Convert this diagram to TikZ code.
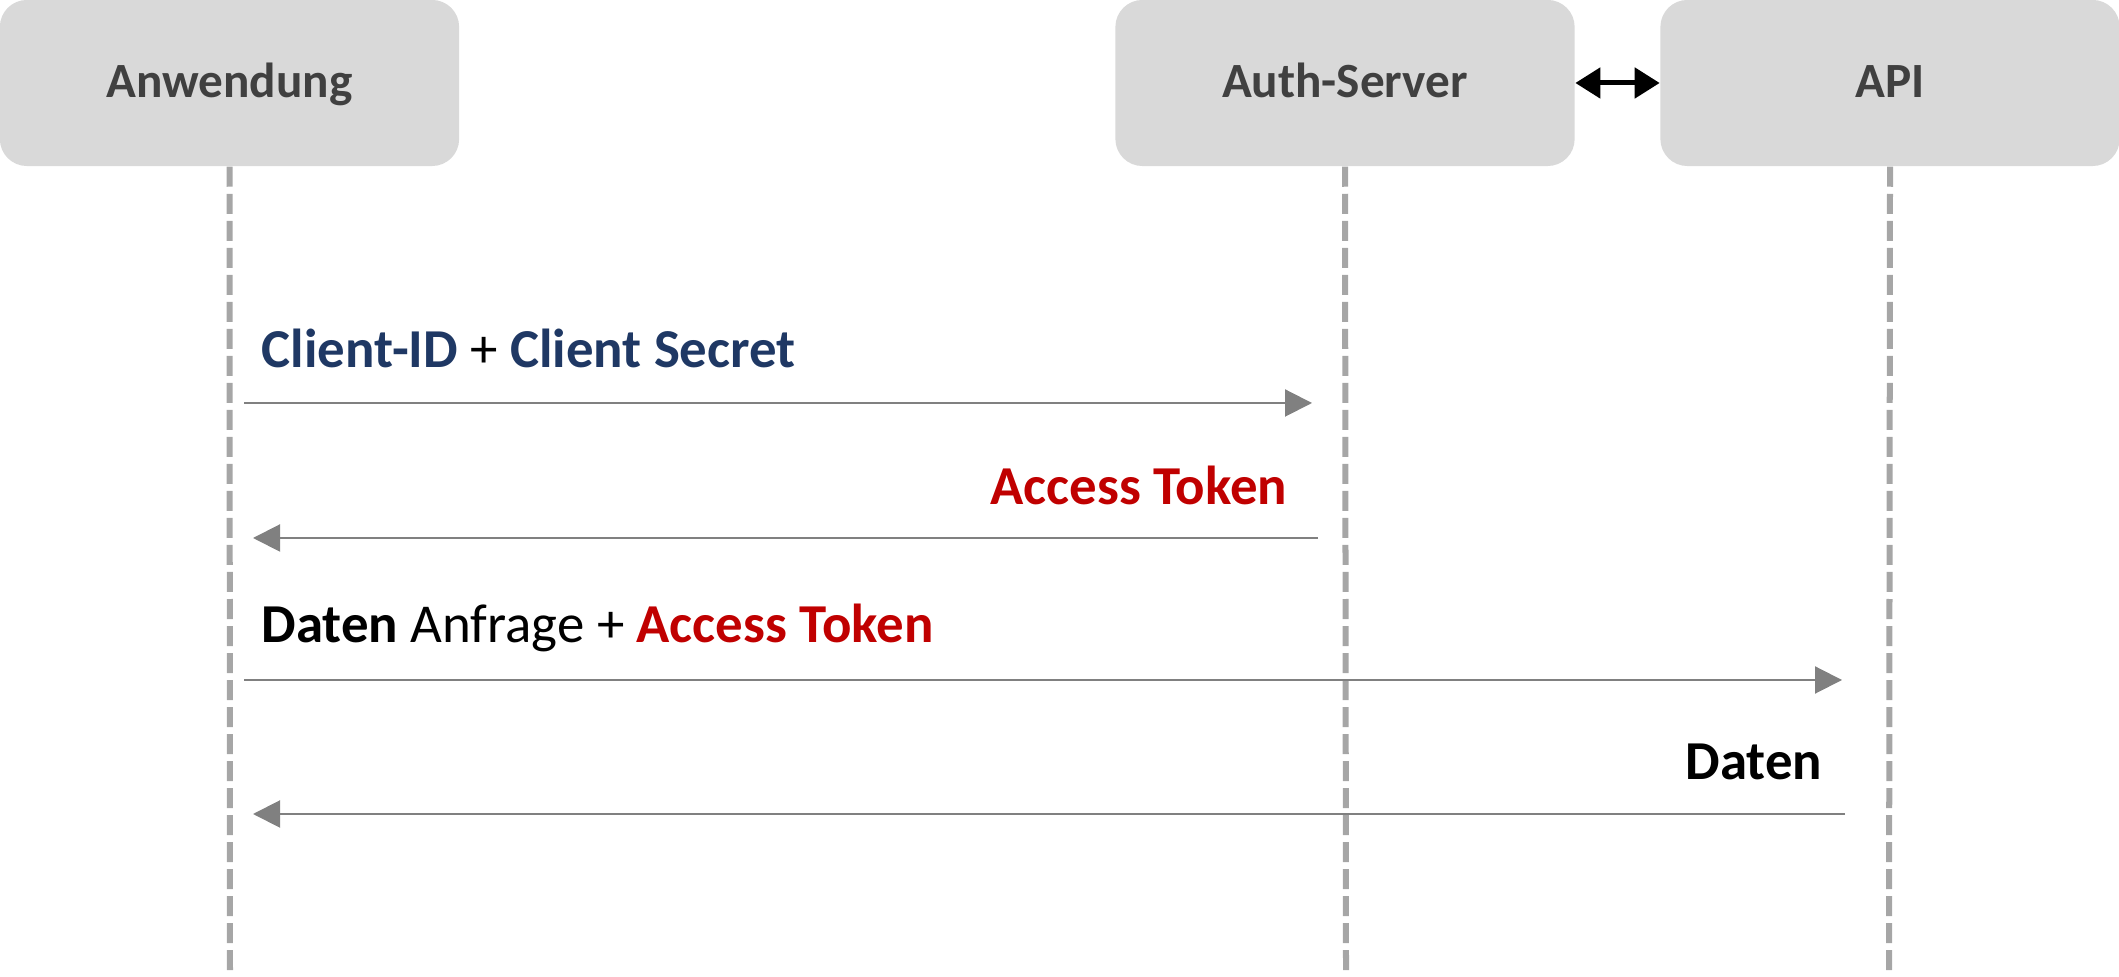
\documentclass[tikz,border=0pt]{standalone}
\usepackage{fontspec}
\setmainfont{Carlito}
\usepackage{xcolor}
\usetikzlibrary{arrows.meta}
\definecolor{boxgray}{HTML}{D9D9D9}
\definecolor{labelgray}{HTML}{404040}
\definecolor{linegray}{HTML}{A6A6A6}
\definecolor{arrowgray}{HTML}{808080}
\definecolor{navy}{HTML}{1F3864}
\definecolor{tokenred}{HTML}{C00000}
\tikzset{
	lane/.style={fill=boxgray, rounded corners=0.27cm, minimum width=4.59cm,
			minimum height=1.66cm, text=labelgray, text height=0.9em, text depth=0.08em,
			font=\fontsize{14}{17}\selectfont\bfseries},
	lifeline/.style={draw=linegray, line width=0.06cm, dash pattern=on 0.2cm off 0.07cm},
	msgarrow/.style={draw=arrowgray, line width=0.02cm,
			-{Triangle[length=0.27cm,width=0.27cm]}},
	msg/.style={inner sep=0pt, font=\fontsize{15.6}{19}\selectfont}
}

\begin{document}
\begin{tikzpicture}[x=0.01cm, y=-0.01cm]
		\useasboundingbox (0,0) rectangle (2119,977);
		% participants
		\node[lane] (app) at (229.5,83) {Anwendung};
		\node[lane] (auth) at (1345,83) {Auth-Server};
		\node[lane] (api) at (1890,83) {API};
		\draw[line width=0.05cm, {Triangle[length=0.25cm,width=0.3cm]}-{Triangle[length=0.25cm,width=0.3cm]}] (auth.east) -- (api.west);
		% lifelines
		\coordinate (appEnd) at (230,977);
		\coordinate (authEnd) at (1346,977);
		\coordinate (apiEnd) at (1889,977);
		\draw[lifeline] (app.south) -- (appEnd);
		\draw[lifeline] (auth.south) -- (authEnd);
		\draw[lifeline] (api.south) -- (apiEnd);
		% messages
		\coordinate (m1a) at (244,403);
		\coordinate (m1b) at (1312,403);
		\coordinate (m2a) at (1318,538);
		\coordinate (m2b) at (253,538);
		\coordinate (m3a) at (244,680);
		\coordinate (m3b) at (1842,680);
		\coordinate (m4a) at (1845,814);
		\coordinate (m4b) at (253,814);
		\draw[msgarrow] (m1a) -- (m1b);
		\draw[msgarrow] (m2a) -- (m2b);
		\draw[msgarrow] (m3a) -- (m3b);
		\draw[msgarrow] (m4a) -- (m4b);
		\node[msg, anchor=base west] (credLabel) at (261,368) {\textcolor{navy}{\bfseries Client-ID} + \textcolor{navy}{\bfseries Client Secret}};
		\node[msg, anchor=base east, text=tokenred] (tokenLabel) at (1288,505) {\bfseries Access Token};
		\node[msg, anchor=base west] (requestLabel) at (261,643) {\textbf{Daten} Anfrage + \textcolor{tokenred}{\bfseries Access Token}};
		\node[msg, anchor=base east] (dataLabel) at (1823,780) {\bfseries Daten};
	\end{tikzpicture}
\end{document}
